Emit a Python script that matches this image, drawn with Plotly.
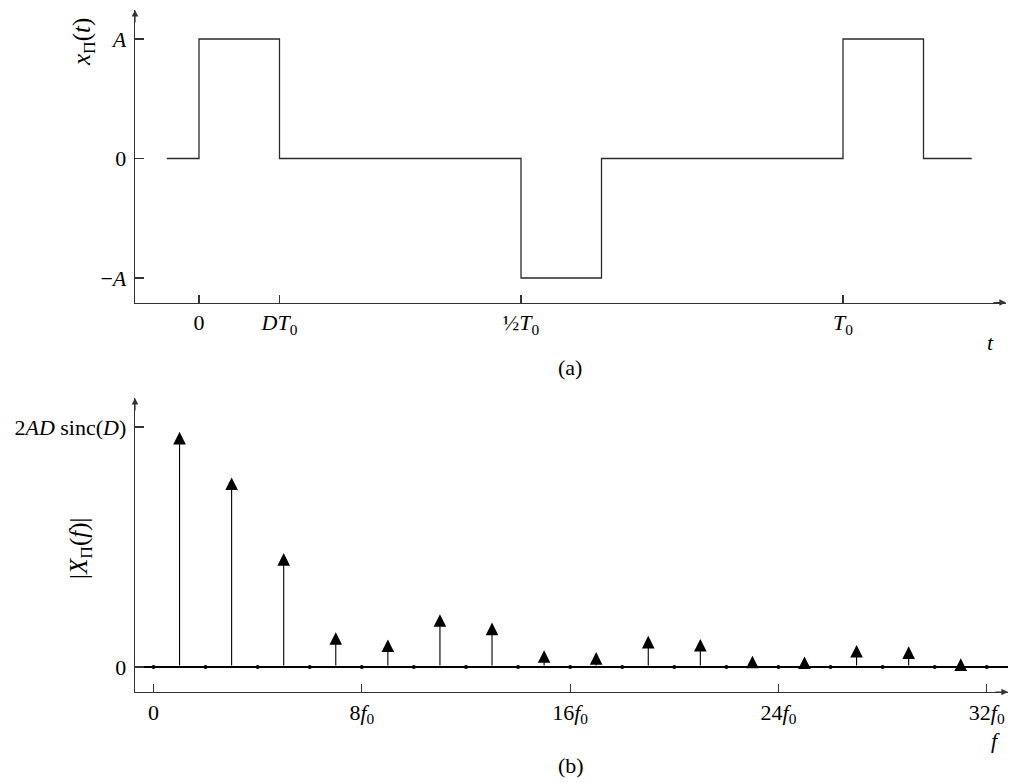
import plotly.graph_objects as go

# ---------------- data ----------------
# (a) time signal: break points (in units of T0) and levels (in units of A), drawn with a step shape
D = 1 / 8
t_points = [-0.05, 0.0, 0.125, 0.5, 0.625, 1.0, 1.125, 1.2]
x_levels = [0, 1, 0, -1, 0, 1, 0, 0]

t_tickvals = [0, D, 0.5, 1.0]
t_ticktext = ["0", "<i>DT</i><sub>0</sub>", "½<i>T</i><sub>0</sub>", "<i>T</i><sub>0</sub>"]
xa_tickvals = [-1, 0, 1]
xa_ticktext = ["−<i>A</i>", "0", "<i>A</i>"]

# (b) line spectrum: odd harmonics (relative to 2AD sinc(D))
odd_n = [1, 3, 5, 7, 9, 11, 13, 15, 17, 19, 21, 23, 25, 27, 29, 31]
odd_mag = [0.98, 0.79, 0.475, 0.145, 0.115, 0.22, 0.185, 0.07,
           0.062, 0.13, 0.117, 0.047, 0.044, 0.092, 0.086, 0.036]
even_n = [0, 2, 4, 6, 8, 10, 12, 14, 16, 18, 20, 22, 24, 26, 28, 30, 32]
even_mag = [0] * len(even_n)

f_tickvals = [0, 8, 16, 24, 32]
f_ticktext = ["0", "8<i>f</i><sub>0</sub>", "16<i>f</i><sub>0</sub>",
              "24<i>f</i><sub>0</sub>", "32<i>f</i><sub>0</sub>"]
X_tickvals = [0, 1]
X_ticktext = ["0", "2<i>AD</i> sinc(<i>D</i>)"]

# ---------------- style ----------------
W, H = 1010, 783
FONT = "Liberation Serif"
FS = 22
FS_TITLE = 25
AX_COL = "#333333"
LINE_COL = "#2a2a2a"


def px_x(p):
    return p / W


def px_y(p):
    return (H - p) / H


fig = go.Figure()

# (a) signal
fig.add_trace(go.Scatter(
    x=t_points, y=x_levels, mode="lines", line=dict(shape="hv", color=LINE_COL, width=1.3),
    xaxis="x", yaxis="y", showlegend=False, hoverinfo="skip"))

# (b) even harmonics (zeros) as dots
fig.add_trace(go.Scatter(
    x=even_n, y=even_mag, mode="markers", marker=dict(color="black", size=4),
    xaxis="x2", yaxis="y2", showlegend=False, hoverinfo="skip"))

annotations = []
# (b) impulses as arrows from 0 to the magnitude
for n, m in zip(odd_n, odd_mag):
    annotations.append(dict(
        x=n, y=m, xref="x2", yref="y2", ax=n, ay=0, axref="x2", ayref="y2",
        text="", showarrow=True, arrowhead=2, arrowsize=2.3, arrowwidth=1.1,
        arrowcolor="black"))

# axis arrowheads
for xr, yr in (("x", "y"), ("x2", "y2")):
    annotations.append(dict(x=1, y=0, xref=xr + " domain", yref=yr + " domain",
                            ax=-14, ay=0, text="", showarrow=True, arrowhead=2,
                            arrowsize=1.1, arrowwidth=1.2, arrowcolor=AX_COL))
    annotations.append(dict(x=0, y=1, xref=xr + " domain", yref=yr + " domain",
                            ax=0, ay=14, text="", showarrow=True, arrowhead=2,
                            arrowsize=1.1, arrowwidth=1.2, arrowcolor=AX_COL))


def label(text, x, y, angle=0, size=FS):
    return dict(text=text, x=px_x(x), y=px_y(y), xref="paper", yref="paper",
                showarrow=False, xanchor="center", yanchor="middle", textangle=angle,
                font=dict(family=FONT, size=size, color="black"))


annotations += [
    label("<i>x</i><sub>Π</sub>(<i>t</i>)", 83, 42, -90, FS_TITLE),
    label("<i>t</i>", 990, 342),
    label("(a)", 570, 367),
    label("|<i>X</i><sub>Π</sub>(<i>f</i>)|", 80, 548, -90, FS_TITLE),
    label("<i>f</i>", 995, 740),
    label("(b)", 571, 765),
]

common_axis = dict(showline=True, linecolor=AX_COL, linewidth=1.3, showgrid=False,
                   ticks="inside", tickcolor=AX_COL, tickwidth=1.1,
                   tickfont=dict(family=FONT, size=FS, color="black"),
                   fixedrange=True)

fig.update_layout(
    width=W, height=H, autosize=False,
    margin=dict(l=0, r=0, t=0, b=0),
    paper_bgcolor="white", plot_bgcolor="white",
    showlegend=False,
    annotations=annotations,
    xaxis=dict(common_axis, domain=[px_x(135), px_x(1006)],
               range=[(135 - 199) / 644, (1006 - 199) / 644],
               tickvals=t_tickvals, ticktext=t_ticktext, ticklen=8,
               zeroline=False, anchor="y", ticklabelstandoff=0),
    yaxis=dict(common_axis, domain=[px_y(302.5), px_y(10)],
               range=[(158.5 - 302.5) / 119.5, (158.5 - 10) / 119.5],
               tickvals=xa_tickvals, ticktext=xa_ticktext, ticklen=9,
               zeroline=False, anchor="x", ticklabelstandoff=3),
    xaxis2=dict(common_axis, domain=[px_x(135), px_x(1008)],
                range=[(135 - 153.5) / 26.04, (1008 - 153.5) / 26.04],
                tickvals=f_tickvals, ticktext=f_ticktext, ticklen=8,
                zeroline=False, anchor="y2", ticklabelstandoff=0),
    yaxis2=dict(common_axis, domain=[px_y(692), px_y(398)],
                range=[(667 - 692) / 240, (667 - 398) / 240],
                tickvals=X_tickvals, ticktext=X_ticktext, ticklen=9,
                zeroline=True, zerolinecolor="black", zerolinewidth=1.3,
                anchor="x2", ticklabelstandoff=3),
)

fig.write_html("out.html",
               config={"displayModeBar": False, "staticPlot": True},
               post_script="document.body.style.margin='0';"
                           "document.body.style.overflow='hidden';")
